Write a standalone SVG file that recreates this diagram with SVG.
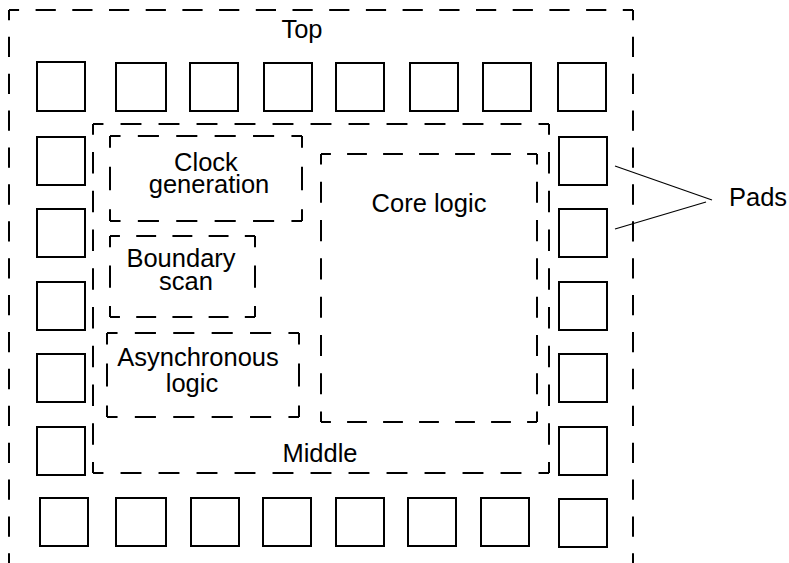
<svg xmlns="http://www.w3.org/2000/svg" width="789" height="563" viewBox="0 0 789 563">
  <style>
    .pad { fill: #fff; stroke: #000; stroke-width: 2; }
    .dash { fill: none; stroke: #000; stroke-width: 2; stroke-linecap: butt; }
    .lbl { font-family: "Liberation Sans", Arial, Helvetica, sans-serif; font-size: 25.5px; fill: #000; text-anchor: middle; }
    .lead { stroke: #000; stroke-width: 1.2; fill: none; }
  </style>
  <rect width="789" height="563" fill="#fff"/>

  <!-- Top: outer dashed region (bottom edge runs off the sheet) -->
  <g id="top">
    <line class="dash" x1="9" y1="10" x2="633" y2="10" stroke-dasharray="20.2 16.5" stroke-dashoffset="10.1"/>
    <line class="dash" x1="9" y1="10" x2="9" y2="600" stroke-dasharray="20.3 16.6" stroke-dashoffset="10.15"/>
    <line class="dash" x1="633" y1="10" x2="633" y2="600" stroke-dasharray="20.3 16.6" stroke-dashoffset="10.15"/>
    <text class="lbl" x="302" y="38">Top</text>
  </g>

  <!-- Middle region -->
  <g id="middle">
    <line class="dash" x1="93" y1="124" x2="549" y2="124" stroke-dasharray="20.9 17.1" stroke-dashoffset="10.45"/>
    <line class="dash" x1="93" y1="473" x2="549" y2="473" stroke-dasharray="20.9 17.1" stroke-dashoffset="10.45"/>
    <line class="dash" x1="93" y1="124" x2="93" y2="473" stroke-dasharray="21.3 17.45" stroke-dashoffset="10.67"/>
    <line class="dash" x1="549" y1="124" x2="549" y2="473" stroke-dasharray="21.3 17.45" stroke-dashoffset="10.67"/>
    <text class="lbl" x="320" y="462">Middle</text>
  </g>

  <!-- Clock generation -->
  <g id="clock-generation">
    <line class="dash" x1="110" y1="136" x2="302" y2="136" stroke-dasharray="21.1 17.3" stroke-dashoffset="10.56"/>
    <line class="dash" x1="110" y1="221" x2="302" y2="221" stroke-dasharray="21.1 17.3" stroke-dashoffset="10.56"/>
    <line class="dash" x1="110" y1="136" x2="110" y2="221" stroke-dasharray="23.4 19.1" stroke-dashoffset="11.7"/>
    <line class="dash" x1="302" y1="136" x2="302" y2="221" stroke-dasharray="23.4 19.1" stroke-dashoffset="11.7"/>
    <text class="lbl" x="206" y="171">Clock</text>
    <text class="lbl" x="209" y="193">generation</text>
  </g>

  <!-- Boundary scan -->
  <g id="boundary-scan">
    <line class="dash" x1="110" y1="236" x2="255" y2="236" stroke-dasharray="19.9 16.3" stroke-dashoffset="9.97"/>
    <line class="dash" x1="110" y1="317" x2="255" y2="317" stroke-dasharray="19.9 16.3" stroke-dashoffset="9.97"/>
    <line class="dash" x1="110" y1="236" x2="110" y2="317" stroke-dasharray="22.3 18.2" stroke-dashoffset="11.1"/>
    <line class="dash" x1="255" y1="236" x2="255" y2="317" stroke-dasharray="22.3 18.2" stroke-dashoffset="11.1"/>
    <text class="lbl" x="181" y="267">Boundary</text>
    <text class="lbl" x="186" y="290">scan</text>
  </g>

  <!-- Asynchronous logic -->
  <g id="asynchronous-logic">
    <line class="dash" x1="107" y1="333" x2="299" y2="333" stroke-dasharray="21.1 17.3" stroke-dashoffset="10.56"/>
    <line class="dash" x1="107" y1="417" x2="299" y2="417" stroke-dasharray="21.1 17.3" stroke-dashoffset="10.56"/>
    <line class="dash" x1="107" y1="333" x2="107" y2="417" stroke-dasharray="23.1 18.9" stroke-dashoffset="11.55"/>
    <line class="dash" x1="299" y1="333" x2="299" y2="417" stroke-dasharray="23.1 18.9" stroke-dashoffset="11.55"/>
    <text class="lbl" x="198" y="366">Asynchronous</text>
    <text class="lbl" x="192" y="392">logic</text>
  </g>

  <!-- Core logic -->
  <g id="core-logic">
    <line class="dash" x1="321" y1="154" x2="537" y2="154" stroke-dasharray="19.8 16.2" stroke-dashoffset="9.9"/>
    <line class="dash" x1="321" y1="422" x2="537" y2="422" stroke-dasharray="19.8 16.2" stroke-dashoffset="9.9"/>
    <line class="dash" x1="321" y1="154" x2="321" y2="422" stroke-dasharray="21.1 17.2" stroke-dashoffset="10.53"/>
    <line class="dash" x1="537" y1="154" x2="537" y2="422" stroke-dasharray="21.1 17.2" stroke-dashoffset="10.53"/>
    <text class="lbl" x="429" y="212">Core logic</text>
  </g>

  <!-- Pad ring -->
  <g id="pads-top-row">
    <rect class="pad" x="37" y="62" width="48" height="49"/>
    <rect class="pad" x="116" y="63" width="50" height="48"/>
    <rect class="pad" x="190" y="63" width="48" height="48"/>
    <rect class="pad" x="264" y="63" width="48" height="48"/>
    <rect class="pad" x="336" y="63" width="48" height="48"/>
    <rect class="pad" x="410" y="63" width="48" height="48"/>
    <rect class="pad" x="483" y="63" width="48" height="48"/>
    <rect class="pad" x="558" y="63" width="48" height="48"/>
  </g>
  <g id="pads-left-column">
    <rect class="pad" x="37" y="137" width="48" height="48"/>
    <rect class="pad" x="37" y="209" width="48" height="48"/>
    <rect class="pad" x="37" y="282" width="48" height="48"/>
    <rect class="pad" x="37" y="354" width="48" height="48"/>
    <rect class="pad" x="37" y="427" width="48" height="48"/>
  </g>
  <g id="pads-right-column">
    <rect class="pad" x="559" y="137" width="48" height="48"/>
    <rect class="pad" x="559" y="209" width="48" height="48"/>
    <rect class="pad" x="559" y="282" width="48" height="48"/>
    <rect class="pad" x="559" y="354" width="48" height="48"/>
    <rect class="pad" x="559" y="427" width="48" height="48"/>
  </g>
  <g id="pads-bottom-row">
    <rect class="pad" x="40" y="498" width="48" height="48"/>
    <rect class="pad" x="116" y="498" width="50" height="48"/>
    <rect class="pad" x="191" y="498" width="48" height="48"/>
    <rect class="pad" x="263" y="498" width="48" height="48"/>
    <rect class="pad" x="336" y="498" width="48" height="48"/>
    <rect class="pad" x="408" y="498" width="48" height="48"/>
    <rect class="pad" x="481" y="498" width="48" height="48"/>
    <rect class="pad" x="559" y="499" width="48" height="48"/>
  </g>

  <!-- Pads callout -->
  <g id="pads-label">
    <text class="lbl" x="729" y="206" style="text-anchor:start">Pads</text>
  </g>
  <g id="connectors">
    <line class="lead" x1="615" y1="166" x2="712" y2="200"/>
    <line class="lead" x1="615" y1="229" x2="706" y2="202"/>
  </g>
</svg>
